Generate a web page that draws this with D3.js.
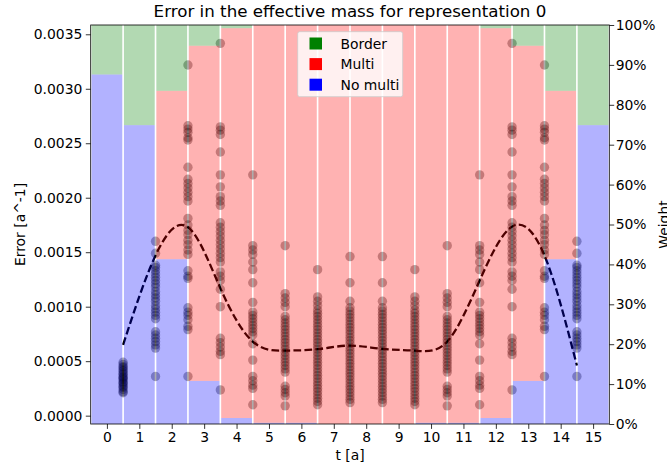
<!DOCTYPE html>
<html>
<head>
<meta charset="utf-8">
<script src="https://cdn.jsdelivr.net/npm/d3@7"></script>
<style>
  html, body { margin: 0; padding: 0; background: #fff; }
  svg { display: block; font-family: "DejaVu Sans", sans-serif; }
</style>
</head>
<body>
<svg id="chart" width="667" height="471"></svg>
<script>
// ---------- data ----------
const barT = [0, 1, 2, 3, 4, 5, 6, 7, 8, 9, 10, 11, 12, 13, 14, 15];
const noMultiPct = [87.6, 74.9, 41.3, 10.8, 1.5, 0.3, 0.3, 0, 0, 0, 0.3, 0.3, 1.5, 10.8, 41.3, 74.9];
const multiPct   = [0, 0, 42.2, 84.0, 97.7, 99.7, 99.7, 100, 100, 100, 99.7, 99.7, 97.7, 84.0, 42.2, 0];
const borderPct  = [12.4, 25.1, 16.5, 5.2, 0.8, 0, 0, 0, 0, 0, 0, 0, 0.8, 5.2, 16.5, 25.1];

const pointT = [0.5, 1.5, 2.5, 3.5, 4.5, 5.5, 6.5, 7.5, 8.5, 9.5, 10.5, 11.5, 12.5, 13.5, 14.5];

const err_t0_5 = [0.00049, 0.00047, 0.00045, 0.00044, 0.00042, 0.00041, 0.00039, 0.00038, 0.00036, 0.00035,
  0.00034, 0.00033, 0.00031, 0.00030, 0.00029, 0.00027, 0.00026, 0.00024, 0.00022, 0.00021];
const err_t1_5 = [0.00160, 0.00149, 0.00138, 0.00136, 0.00133, 0.00130, 0.00127, 0.00124, 0.00121, 0.00118,
  0.00114, 0.00111, 0.00108, 0.00105, 0.00101, 0.00098, 0.00095, 0.00092, 0.00089, 0.00077, 0.00074,
  0.00071, 0.00068, 0.00065, 0.00062, 0.00036];
const err_t2_5 = [0.003218, 0.00266, 0.00263, 0.00260, 0.00255, 0.00253, 0.00228, 0.00217, 0.00213, 0.00209,
  0.00205, 0.00201, 0.00197, 0.00181, 0.00175, 0.00170, 0.00166, 0.00161, 0.00157, 0.00152, 0.00148,
  0.00133, 0.00128, 0.00126, 0.00099, 0.00095, 0.00092, 0.00088, 0.00082, 0.00079, 0.00036];
const err_t3_5 = [0.003417, 0.00265, 0.00262, 0.00258, 0.00242, 0.00221, 0.00210, 0.00201, 0.00197, 0.00193,
  0.00177, 0.00173, 0.00169, 0.00165, 0.00161, 0.00157, 0.00153, 0.00149, 0.00145, 0.00141, 0.00132,
  0.00128, 0.00124, 0.00116, 0.00100, 0.00071, 0.00067, 0.00063, 0.00059, 0.00056, 0.000236];
const err_t4_5 = [0.00221, 0.00156, 0.00152, 0.00148, 0.00141, 0.00134, 0.00122, 0.00104, 0.00095, 0.00092,
  0.00089, 0.00086, 0.00083, 0.00080, 0.00077, 0.00074, 0.00066, 0.00051, 0.00036, 0.00032, 0.00028,
  0.00025, 0.00010];
const err_t5_5 = [0.00156, 0.00112, 0.00108, 0.00104, 0.00100, 0.00091, 0.00088, 0.00085, 0.00082, 0.00079,
  0.00076, 0.00073, 0.00070, 0.00067, 0.00064, 0.00061, 0.00058, 0.00055, 0.00052, 0.00049, 0.00046,
  0.00043, 0.00040, 0.00027, 0.00024, 0.00021, 0.00018, 0.00009];
const err_t6_5 = [0.00134, 0.00109, 0.00105, 0.00101, 0.00097, 0.00094, 0.00091, 0.00088, 0.00085, 0.00082,
  0.00079, 0.00076, 0.00073, 0.00070, 0.00067, 0.00064, 0.00061, 0.00058, 0.00055, 0.00052, 0.00049,
  0.00046, 0.00043, 0.00040, 0.00037, 0.00034, 0.00031, 0.00028, 0.00025, 0.00022, 0.00019, 0.00016,
  0.00013, 0.00010];
const err_t7_5 = [0.00146, 0.00122, 0.00105, 0.00099, 0.00096, 0.00093, 0.00090, 0.00087, 0.00084, 0.00081,
  0.00078, 0.00075, 0.00072, 0.00069, 0.00066, 0.00063, 0.00060, 0.00057, 0.00054, 0.00051, 0.00048,
  0.00045, 0.00042, 0.00039, 0.00036, 0.00033, 0.00030, 0.00027, 0.00024, 0.00021, 0.00018, 0.00015,
  0.00012];
const err_t8_5 = [0.00146, 0.00122, 0.00105, 0.00099, 0.00096, 0.00093, 0.00090, 0.00087, 0.00084, 0.00081,
  0.00078, 0.00075, 0.00072, 0.00069, 0.00066, 0.00063, 0.00060, 0.00057, 0.00054, 0.00051, 0.00048,
  0.00045, 0.00042, 0.00039, 0.00036, 0.00033, 0.00030, 0.00027, 0.00024, 0.00021, 0.00018, 0.00015,
  0.00012];
const err_t9_5 = [0.00134, 0.00109, 0.00105, 0.00101, 0.00097, 0.00094, 0.00091, 0.00088, 0.00085, 0.00082,
  0.00079, 0.00076, 0.00073, 0.00070, 0.00067, 0.00064, 0.00061, 0.00058, 0.00055, 0.00052, 0.00049,
  0.00046, 0.00043, 0.00040, 0.00037, 0.00034, 0.00031, 0.00028, 0.00025, 0.00022, 0.00019, 0.00016,
  0.00013, 0.00010];
const err_t10_5 = [0.00156, 0.00112, 0.00108, 0.00104, 0.00100, 0.00091, 0.00088, 0.00085, 0.00082, 0.00079,
  0.00076, 0.00073, 0.00070, 0.00067, 0.00064, 0.00061, 0.00058, 0.00055, 0.00052, 0.00049, 0.00046,
  0.00043, 0.00040, 0.00027, 0.00024, 0.00021, 0.00018, 0.00009];
const err_t11_5 = [0.00221, 0.00156, 0.00152, 0.00148, 0.00141, 0.00134, 0.00122, 0.00104, 0.00095, 0.00092,
  0.00089, 0.00086, 0.00083, 0.00080, 0.00077, 0.00074, 0.00066, 0.00051, 0.00036, 0.00032, 0.00028,
  0.00025, 0.00010];
const err_t12_5 = [0.003417, 0.00265, 0.00262, 0.00258, 0.00242, 0.00221, 0.00210, 0.00201, 0.00197, 0.00193,
  0.00177, 0.00173, 0.00169, 0.00165, 0.00161, 0.00157, 0.00153, 0.00149, 0.00145, 0.00141, 0.00132,
  0.00128, 0.00124, 0.00116, 0.00100, 0.00071, 0.00067, 0.00063, 0.00059, 0.00056, 0.000236];
const err_t13_5 = [0.003218, 0.00266, 0.00263, 0.00260, 0.00255, 0.00253, 0.00228, 0.00217, 0.00213, 0.00209,
  0.00205, 0.00201, 0.00197, 0.00181, 0.00175, 0.00170, 0.00166, 0.00161, 0.00157, 0.00152, 0.00148,
  0.00133, 0.00128, 0.00126, 0.00099, 0.00095, 0.00092, 0.00088, 0.00082, 0.00079, 0.00036];
const err_t14_5 = [0.00160, 0.00149, 0.00138, 0.00136, 0.00133, 0.00130, 0.00127, 0.00124, 0.00121, 0.00118,
  0.00114, 0.00111, 0.00108, 0.00105, 0.00101, 0.00098, 0.00095, 0.00092, 0.00089, 0.00077, 0.00074,
  0.00071, 0.00068, 0.00065, 0.00062, 0.00036];

const meanErr = [0.00065, 0.00147, 0.00173, 0.00117, 0.00068, 0.000597, 0.00061, 0.000643, 0.000612,
  0.000597, 0.00068, 0.00124, 0.001735, 0.00147, 0.00046];

const leftTicks = [0, 0.0005, 0.0010, 0.0015, 0.0020, 0.0025, 0.0030, 0.0035];
const rightTicks = [0, 10, 20, 30, 40, 50, 60, 70, 80, 90, 100];
const xTicks = [0, 1, 2, 3, 4, 5, 6, 7, 8, 9, 10, 11, 12, 13, 14, 15];
const seriesNames = ["Border", "Multi", "No multi"];

// ---------- layout ----------
const L = 90.7, R = 609.3, T = 25, B = 424;
const FS = 13.9;
const svg = d3.select("#chart");

const x = d3.scaleLinear().domain([-0.5, 15.5]).range([L, R]);
const yErr = d3.scaleLinear().domain([-0.0000765, 0.0035852]).range([B, T]);
const yW = d3.scaleLinear().domain([0, 100]).range([B, T]);

svg.append("defs").append("clipPath").attr("id", "plotclip")
  .append("rect").attr("x", L).attr("y", T).attr("width", R - L).attr("height", B - T);

// --- first (error) layer: scatter points + dashed curve ---
const errCols = [err_t0_5, err_t1_5, err_t2_5, err_t3_5, err_t4_5, err_t5_5, err_t6_5, err_t7_5,
  err_t8_5, err_t9_5, err_t10_5, err_t11_5, err_t12_5, err_t13_5, err_t14_5];
const pts = [];
errCols.forEach((col, i) => col.forEach(v => pts.push({ t: pointT[i], v })));
svg.append("g").selectAll("circle").data(pts).enter().append("circle")
  .attr("cx", d => x(d.t)).attr("cy", d => yErr(d.v))
  .attr("r", 4.7).attr("fill", "#000").attr("fill-opacity", 0.32);

const line = d3.line().x((d, i) => x(pointT[i])).y(d => yErr(d)).curve(d3.curveNatural);
svg.append("path").attr("d", line(meanErr))
  .attr("fill", "none").attr("stroke", "#000")
  .attr("stroke-width", 2.3).attr("stroke-dasharray", "7.7,3.3");

// --- second (weight) layer: translucent stacked bars on top ---
const barRows = barT.map((t, i) => ({ t, nomulti: noMultiPct[i], multi: multiPct[i], border: borderPct[i] }));
const stack = d3.stack().keys(["nomulti", "multi", "border"])(barRows);
const fillColors = { nomulti: "rgba(0,0,255,0.3)", multi: "rgba(255,0,0,0.3)", border: "rgba(0,128,0,0.3)" };
const barW = 0.95;
const gBars = svg.append("g").attr("clip-path", "url(#plotclip)");
stack.forEach(layer => {
  gBars.selectAll(null).data(layer).enter().append("rect")
    .attr("x", d => x(d.data.t - barW / 2))
    .attr("width", d => x(d.data.t + barW / 2) - x(d.data.t - barW / 2))
    .attr("y", d => yW(d[1]))
    .attr("height", d => Math.max(0, yW(d[0]) - yW(d[1])))
    .attr("fill", fillColors[layer.key]);
});

// axes
const axL = svg.append("g").attr("transform", `translate(${L},0)`)
  .call(d3.axisLeft(yErr).tickValues(leftTicks).tickFormat(d3.format(".4f")).tickSize(4.9).tickPadding(3.5));
const axR = svg.append("g").attr("transform", `translate(${R},0)`)
  .call(d3.axisRight(yW).tickValues(rightTicks).tickFormat(d => d + "%").tickSize(4.9).tickPadding(1.5));
const axB = svg.append("g").attr("transform", `translate(0,${B})`)
  .call(d3.axisBottom(x).tickValues(xTicks).tickFormat(d3.format("d")).tickSize(4.9).tickPadding(3.5));
[axL, axR, axB].forEach(a => {
  a.select(".domain").remove();
  a.selectAll("text").attr("font-size", FS).attr("font-family", "DejaVu Sans").attr("fill", "#000");
  a.selectAll("line").attr("stroke", "#000").attr("stroke-width", 0.8);
});

// frame
svg.append("rect").attr("x", L).attr("y", T).attr("width", R - L).attr("height", B - T)
  .attr("fill", "none").attr("stroke", "#000").attr("stroke-width", 0.8);

// titles & labels
svg.append("text").attr("x", (L + R) / 2).attr("y", 17).attr("text-anchor", "middle")
  .attr("font-size", 16.7).text("Error in the effective mass for representation 0");
svg.append("text").attr("x", (L + R) / 2).attr("y", 460).attr("text-anchor", "middle")
  .attr("font-size", FS).text("t [a]");
svg.append("text").attr("transform", `translate(24.5,${(T + B) / 2}) rotate(-90)`)
  .attr("text-anchor", "middle").attr("font-size", FS).text("Error [a^-1]");
svg.append("text").attr("transform", `translate(669,${(T + B) / 2}) rotate(-90)`)
  .attr("text-anchor", "middle").attr("font-size", FS).text("Weight");

// legend
const lg = svg.append("g");
lg.append("rect").attr("x", 297.7).attr("y", 31.7).attr("width", 105).attr("height", 65).attr("rx", 2)
  .attr("fill", "#fff").attr("fill-opacity", 0.8).attr("stroke", "#ccc").attr("stroke-width", 0.8);
const legendColors = ["#008000", "#ff0000", "#0000ff"];
seriesNames.forEach((name, i) => {
  const cy = 43.5 + i * 20.6;
  lg.append("rect").attr("x", 309.5).attr("y", cy - 6).attr("width", 12.5).attr("height", 12)
    .attr("fill", legendColors[i]);
  lg.append("text").attr("x", 340.5).attr("y", cy + 5).attr("font-size", FS).text(name);
});
</script>
</body>
</html>
